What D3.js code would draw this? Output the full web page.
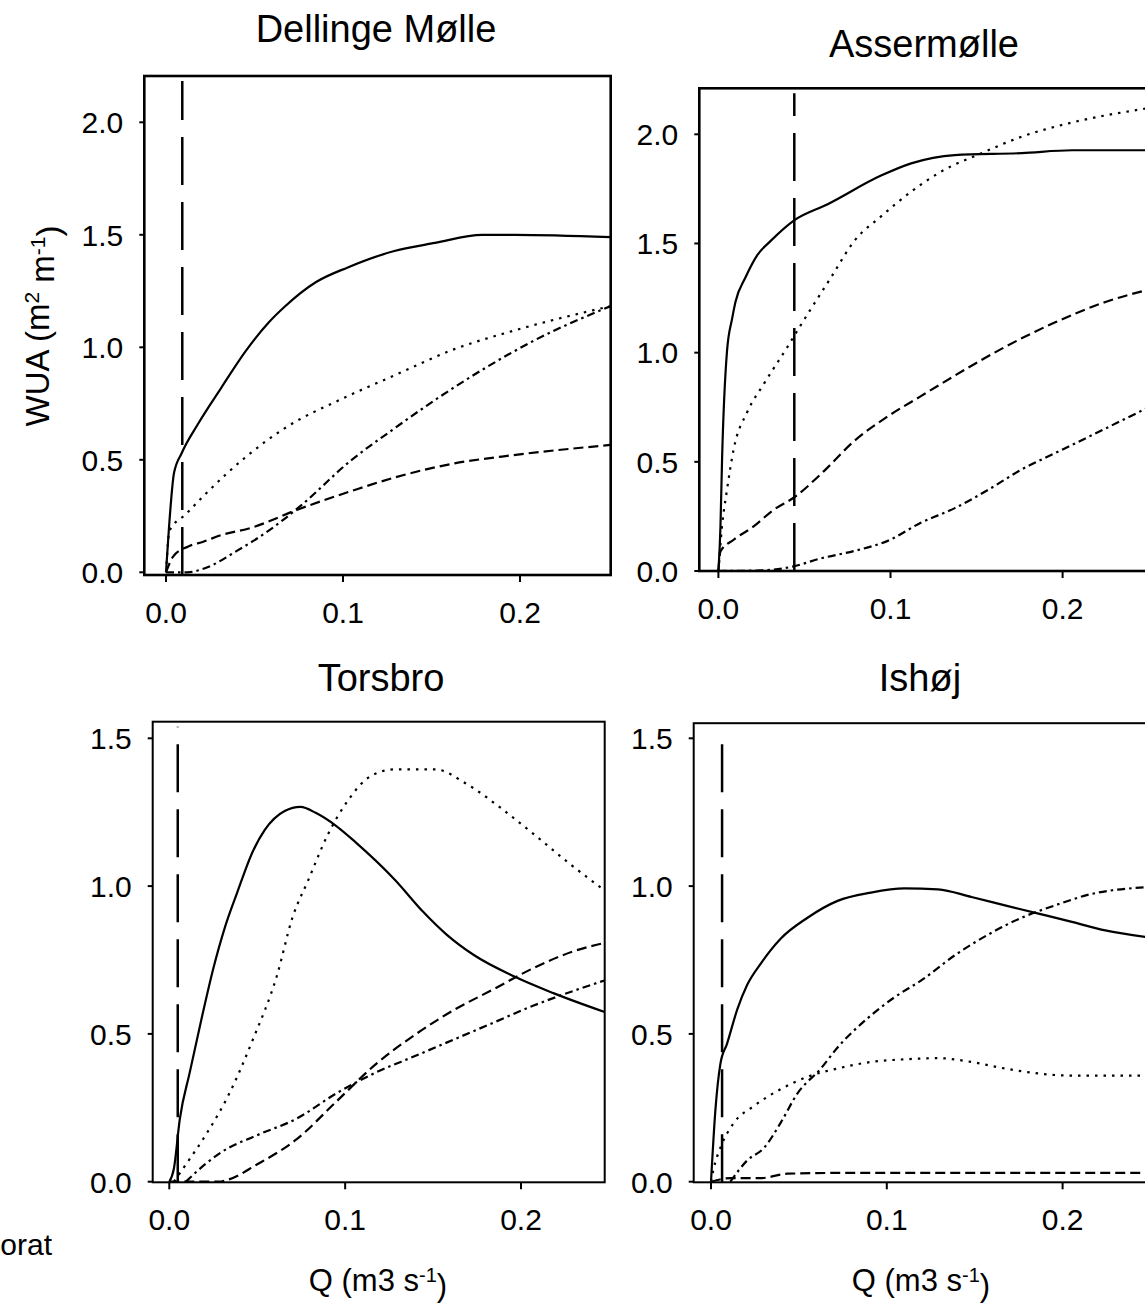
<!DOCTYPE html>
<html>
<head>
<meta charset="utf-8">
<script src="https://cdn.jsdelivr.net/npm/d3@7"></script>
<style>
    html, body { margin: 0; padding: 0; background: #fff; }
    svg { display: block; font-family: "Liberation Sans", Arial, sans-serif; }
    .frame { fill: none; stroke: #000; }
    .curve { fill: none; stroke: #000; stroke-width: 2.2; }
</style>
</head>
<body>
<svg id="chart" width="1145" height="1305"></svg>
<script>
(function () {
    // ---- data ----
    const panelTitles = ["Dellinge Mølle", "Assermølle", "Torsbro", "Ishøj"];
    const xTicks = [0.0, 0.1, 0.2];
    const yTicksTop = [0.0, 0.5, 1.0, 1.5, 2.0];
    const yTicksBottom = [0.0, 0.5, 1.0, 1.5];
    const thresholdQ = [0.0092, 0.0441, 0.0048, 0.0063];

    const dellingeSolid = [[0,0],[0.0017,0.20],[0.0045,0.44],[0.0089,0.53],[0.0179,0.657],[0.0312,0.82],[0.045,0.983],[0.058,1.11],[0.067,1.18],[0.0848,1.29],[0.1027,1.355],[0.129,1.428],[0.152,1.464],[0.1786,1.50],[0.197,1.50],[0.2512,1.49]];
    const dellingeDotted = [[0,0],[0.002,0.185],[0.0112,0.258],[0.0223,0.348],[0.045,0.512],[0.067,0.64],[0.1005,0.775],[0.129,0.875],[0.163,0.992],[0.1965,1.074],[0.2512,1.183]];
    const dellingeDashed = [[0,0],[0.004,0.07],[0.0123,0.114],[0.0211,0.136],[0.0315,0.166],[0.0475,0.196],[0.0738,0.277],[0.107,0.367],[0.129,0.421],[0.163,0.484],[0.1965,0.521],[0.2512,0.566]];
    const dellingeDashDot = [[0,0],[0.012,0],[0.022,0.018],[0.040,0.095],[0.058,0.185],[0.076,0.295],[0.104,0.494],[0.129,0.639],[0.152,0.766],[0.181,0.911],[0.2077,1.029],[0.2512,1.183]];

    const asserSolid = [[0,0],[0.0012,0.204],[0.0021,0.503],[0.005,1.007],[0.008,1.157],[0.0099,1.232],[0.0157,1.344],[0.0226,1.447],[0.0304,1.512],[0.044,1.606],[0.0635,1.68],[0.0945,1.811],[0.112,1.867],[0.1374,1.905],[0.1763,1.914],[0.2055,1.927],[0.25,1.927]];
    const asserDotted = [[0,0],[0.0021,0.204],[0.005,0.372],[0.0089,0.559],[0.0167,0.727],[0.0265,0.858],[0.0401,1.026],[0.0459,1.101],[0.0518,1.176],[0.0654,1.344],[0.079,1.512],[0.0945,1.624],[0.112,1.737],[0.1296,1.83],[0.153,1.914],[0.1762,1.989],[0.2055,2.054],[0.25,2.12]];
    const asserDashed = [[0,0],[0.0012,0.09],[0.0087,0.142],[0.0203,0.203],[0.0319,0.279],[0.0445,0.34],[0.061,0.455],[0.079,0.596],[0.0984,0.708],[0.1179,0.802],[0.1374,0.895],[0.1665,1.026],[0.1957,1.139],[0.2249,1.232],[0.25,1.289]];
    const asserDashDot = [[0,0],[0.0253,0.003],[0.043,0.02],[0.0596,0.058],[0.079,0.092],[0.0984,0.138],[0.1179,0.222],[0.1374,0.288],[0.1568,0.372],[0.1762,0.465],[0.1957,0.54],[0.2152,0.615],[0.25,0.75]];

    const torsbroSolid = [[0,0],[0.0026,0.044],[0.006,0.213],[0.0116,0.369],[0.0184,0.553],[0.0251,0.723],[0.0318,0.864],[0.0386,0.978],[0.0476,1.119],[0.0543,1.19],[0.0656,1.254],[0.0746,1.268],[0.0835,1.247],[0.0948,1.204],[0.106,1.148],[0.1285,1.02],[0.1442,0.914],[0.1577,0.836],[0.1734,0.766],[0.1959,0.695],[0.2184,0.638],[0.2476,0.574]];
    const torsbroDotted = [[0.0026,0],[0.0094,0.058],[0.0206,0.157],[0.0341,0.298],[0.0476,0.482],[0.0611,0.695],[0.07,0.893],[0.079,1.02],[0.0903,1.176],[0.1015,1.289],[0.115,1.374],[0.1285,1.395],[0.151,1.395],[0.169,1.346],[0.1892,1.261],[0.2072,1.176],[0.2274,1.077],[0.2476,0.985]];
    const torsbroDashed = [[0,0],[0.028,0],[0.034,0.008],[0.0498,0.058],[0.0723,0.143],[0.0948,0.27],[0.1173,0.397],[0.1397,0.497],[0.1622,0.582],[0.1847,0.652],[0.2072,0.723],[0.2296,0.779],[0.2476,0.808]];
    const torsbroDashDot = [[0.0094,0],[0.0206,0.06],[0.0296,0.1],[0.0498,0.157],[0.0723,0.213],[0.0948,0.298],[0.1173,0.369],[0.1397,0.425],[0.1622,0.482],[0.1847,0.539],[0.2072,0.596],[0.2296,0.645],[0.2476,0.681]];

    const ishojSolid = [[0,0],[0.0025,0.242],[0.0053,0.397],[0.0092,0.468],[0.0149,0.582],[0.0206,0.666],[0.0282,0.737],[0.0396,0.822],[0.0549,0.893],[0.072,0.95],[0.091,0.978],[0.1101,0.992],[0.1291,0.989],[0.1482,0.963],[0.1672,0.935],[0.1863,0.907],[0.2053,0.879],[0.2243,0.85],[0.25,0.826]];
    const ishojDotted = [[0,0],[0.0015,0.044],[0.0053,0.114],[0.013,0.199],[0.0244,0.256],[0.0396,0.313],[0.0549,0.355],[0.072,0.383],[0.091,0.405],[0.1101,0.414],[0.1291,0.418],[0.1482,0.405],[0.1672,0.383],[0.1863,0.366],[0.2053,0.359],[0.25,0.359]];
    const ishojDashed = [[0,0],[0.011,0.012],[0.0282,0.012],[0.0435,0.027],[0.0815,0.03],[0.25,0.03]];
    const ishojDashDot = [[0.011,0],[0.0206,0.072],[0.0301,0.114],[0.0396,0.199],[0.0491,0.298],[0.0625,0.383],[0.072,0.454],[0.0891,0.553],[0.1044,0.624],[0.1196,0.681],[0.1387,0.766],[0.1577,0.836],[0.1767,0.893],[0.1958,0.935],[0.2148,0.971],[0.25,0.997]];

    // ---- layout (pixels) ----
    const panels = [
        { title: panelTitles[0], titleX: 376, titleY: 28, x0: 166, x2: 520, y0: 572.3, yTop: 122.3, yMax: 2,
          left: 144.3, right: 610.7, top: 76, bottom: 575, yTicks: yTicksTop, frameW: 2.6,
          series: [dellingeSolid, dellingeDotted, dellingeDashed, dellingeDashDot] },
        { title: panelTitles[1], titleX: 924, titleY: 43, x0: 718.4, x2: 1062.6, y0: 571, yTop: 134.3, yMax: 2,
          left: 699.3, right: 1170, top: 88.3, bottom: 571, yTicks: yTicksTop, frameW: 2.6,
          series: [asserSolid, asserDotted, asserDashed, asserDashDot] },
        { title: panelTitles[2], titleX: 381, titleY: 677, x0: 169.3, x2: 521, y0: 1181.7, yTop: 738.3, yMax: 1.5,
          left: 152.7, right: 604.7, top: 721.7, bottom: 1182.3, yTicks: yTicksBottom, frameW: 2,
          series: [torsbroSolid, torsbroDotted, torsbroDashed, torsbroDashDot] },
        { title: panelTitles[3], titleX: 920, titleY: 677, x0: 711, x2: 1062.6, y0: 1181.7, yTop: 738.3, yMax: 1.5,
          left: 693.7, right: 1170, top: 723.2, bottom: 1182.3, yTicks: yTicksBottom, frameW: 2,
          series: [ishojSolid, ishojDotted, ishojDashed, ishojDashDot] }
    ];

    const dashFor = ["none", "2.5,6", "10,5", "8,4,2.5,4"];
    const svg = d3.select("#chart");
    const fmt = d3.format(".1f");

    panels.forEach((p, i) => {
        const x = d3.scaleLinear().domain([0, 0.2]).range([p.x0, p.x2]);
        const y = d3.scaleLinear().domain([0, p.yMax]).range([p.y0, p.yTop]);
        const g = svg.append("g").attr("class", "panel");

        const clipId = "clip" + i;
        g.append("clipPath").attr("id", clipId)
            .append("rect")
            .attr("x", p.left).attr("y", p.top)
            .attr("width", p.right - p.left).attr("height", p.bottom - p.top + 1);

        // frame
        g.append("rect").attr("class", "frame")
            .attr("x", p.left).attr("y", p.top)
            .attr("width", p.right - p.left).attr("height", p.bottom - p.top)
            .attr("stroke-width", p.frameW);

        // y ticks + labels
        g.selectAll(".ytick").data(p.yTicks).enter().append("line")
            .attr("x1", p.left - 5).attr("x2", p.left)
            .attr("y1", d => y(d)).attr("y2", d => y(d))
            .attr("stroke", "#000").attr("stroke-width", 2);
        g.selectAll(".ylab").data(p.yTicks).enter().append("text")
            .attr("x", p.left - 21).attr("y", d => y(d))
            .attr("dy", "0.36em").attr("text-anchor", "end")
            .style("font-size", "30px")
            .text(d => fmt(d));

        // x ticks + labels
        g.selectAll(".xtick").data(xTicks).enter().append("line")
            .attr("x1", d => x(d)).attr("x2", d => x(d))
            .attr("y1", p.bottom).attr("y2", p.bottom + 7)
            .attr("stroke", "#000").attr("stroke-width", 2);
        g.selectAll(".xlab").data(xTicks).enter().append("text")
            .attr("x", d => x(d)).attr("y", p.bottom + 37)
            .attr("dy", "0.36em").attr("text-anchor", "middle")
            .style("font-size", "30px")
            .text(d => fmt(d));

        // title
        g.append("text")
            .attr("x", p.titleX).attr("y", p.titleY)
            .attr("dy", "0.36em").attr("text-anchor", "middle")
            .style("font-size", "38px")
            .text(p.title);

        const plot = g.append("g").attr("clip-path", `url(#${clipId})`);

        // threshold (vertical long dashes), drawn upward so a dash meets the axis
        plot.append("line")
            .attr("x1", x(thresholdQ[i])).attr("x2", x(thresholdQ[i]))
            .attr("y1", p.bottom).attr("y2", p.top + 5)
            .attr("stroke", "#000").attr("stroke-width", 2.5)
            .attr("stroke-dasharray", "48,17");

        const line = d3.line()
            .x(d => x(d[0]))
            .y(d => y(d[1]))
            .curve(d3.curveMonotoneX);

        plot.selectAll(".curve").data(p.series).enter().append("path")
            .attr("class", "curve")
            .attr("stroke-dasharray", (d, k) => dashFor[k])
            .attr("d", line);
    });

    // axis titles
    const yTitle = svg.append("text")
        .attr("transform", "translate(37,326) rotate(-90)")
        .attr("text-anchor", "middle")
        .attr("dy", "0.36em")
        .style("font-size", "33px");
    yTitle.append("tspan").text("WUA (m");
    yTitle.append("tspan").attr("dy", "-0.45em").style("font-size", "21px").text("2");
    yTitle.append("tspan").attr("dy", "0.45em").text(" m");
    yTitle.append("tspan").attr("dy", "-0.45em").style("font-size", "21px").text("-1");
    yTitle.append("tspan").attr("dy", "0.45em").text(")");

    [378, 921].forEach(cx => {
        const t = svg.append("text")
            .attr("x", cx).attr("y", 1280)
            .attr("dy", "0.36em").attr("text-anchor", "middle")
            .style("font-size", "31px");
        t.append("tspan").text("Q (m3 s");
        t.append("tspan").attr("dy", "-0.45em").style("font-size", "20px").text("-1");
        t.append("tspan").attr("dy", "0.45em").text(")");
    });

    svg.append("text")
        .attr("x", 52).attr("y", 1244)
        .attr("dy", "0.36em").attr("text-anchor", "end")
        .style("font-size", "30px")
        .text("orat");
})();
</script>
</body>
</html>
